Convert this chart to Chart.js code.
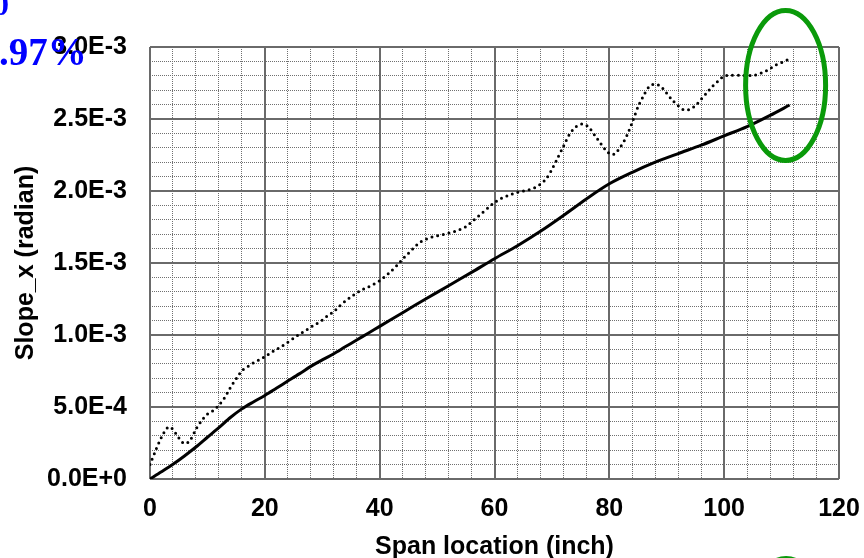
<!DOCTYPE html>
<html>
<head>
<meta charset="utf-8">
<script src="https://cdn.jsdelivr.net/npm/chart.js@4.4.1/dist/chart.umd.min.js"></script>
<style>
  html, body { margin: 0; padding: 0; background: #fff; overflow: hidden; }
  #wrap { position: relative; width: 864px; height: 558px; }
  .note { position: absolute; color: #0000ff; font-family: "Liberation Serif", "Times New Roman", serif; font-weight: bold; white-space: nowrap; line-height: 1; }
</style>
</head>
<body>
<div id="wrap">
  <canvas id="slopeChart" width="864" height="558"></canvas>
  <span class="note" style="left:-7px; top:-12px; font-size:32px;">0</span>
  <span class="note" style="left:-1px; top:32px; font-size:39px;">.97%</span>
</div>
<script>
// slope values in 1e-3 rad
const spanSolid = [0, 2, 4, 6, 8, 10, 12, 14, 16, 18, 20, 22, 24, 26, 28, 30, 32, 34, 36, 38, 40,
    44, 48, 52, 56, 60, 64, 68, 72, 76, 80, 84, 88, 92, 96, 100, 104, 108, 111.4];
const slopeSolid = [0, 0.05, 0.102, 0.16, 0.222, 0.29, 0.357, 0.427, 0.487, 0.535, 0.58, 0.63, 0.68, 0.73, 0.782, 0.827, 0.87, 0.918, 0.965, 1.012, 1.06,
    1.155, 1.25, 1.342, 1.435, 1.53, 1.62, 1.72, 1.83, 1.945, 2.05, 2.13, 2.2, 2.26, 2.318, 2.383, 2.447, 2.525, 2.597];

const spanDotted = [0, 1, 2, 3, 3.6, 4.5, 5.5, 6.2, 7, 8, 9, 10, 11, 12, 13, 14, 15, 16, 17, 18, 19, 20,
    21, 22, 23, 24, 25, 26, 27, 28, 29, 30, 31, 32, 33, 34, 35, 36, 37, 38, 39, 40,
    41, 42, 43, 44, 45, 46, 47, 48, 49, 50, 51, 52, 53, 54, 55, 56, 57, 58, 59, 60,
    61, 62, 63, 64, 65, 66, 67, 68, 69, 70, 71, 72, 73, 74, 75, 75.6, 76.5, 77.5, 78.5, 79.5,
    80.4, 81, 82, 83, 84, 85, 86, 87, 88, 89, 90, 91, 92, 93, 94, 95, 96, 97, 98, 99, 100,
    101, 103, 105, 106, 107, 108, 109, 110, 111];
const slopeDotted = [0.10, 0.20, 0.29, 0.355, 0.36, 0.315, 0.26, 0.245, 0.27, 0.345, 0.405, 0.45, 0.475, 0.512, 0.565, 0.635, 0.695, 0.752, 0.78, 0.807, 0.827, 0.85,
    0.876, 0.899, 0.923, 0.95, 0.977, 1.005, 1.029, 1.055, 1.078, 1.103, 1.136, 1.162, 1.2, 1.235, 1.265, 1.292, 1.315, 1.333, 1.353, 1.377,
    1.408, 1.443, 1.483, 1.527, 1.567, 1.608, 1.643, 1.664, 1.679, 1.689, 1.698, 1.707, 1.718, 1.733, 1.752, 1.785, 1.818, 1.853, 1.887, 1.92,
    1.945, 1.962, 1.978, 1.991, 2.0, 2.009, 2.023, 2.048, 2.085, 2.15, 2.23, 2.31, 2.39, 2.44, 2.462, 2.466, 2.44, 2.385, 2.33, 2.278,
    2.252, 2.26, 2.31, 2.38, 2.478, 2.585, 2.665, 2.727, 2.742, 2.725, 2.678, 2.63, 2.592, 2.562, 2.567, 2.593, 2.637, 2.683, 2.728, 2.766, 2.799,
    2.803, 2.803, 2.802, 2.813, 2.827, 2.85, 2.875, 2.891, 2.91];

// axis setup
const xMin = 0, xMax = 120, xMajor = 20, xMinor = 4;
const yMin = 0, yMax = 3.0e-3, yMajor = 0.5e-3, yMinor = 0.1e-3;

const toPoints = (xs, ys) => xs.map((x, i) => ({ x: x, y: ys[i] / 1000 }));

const labelFont = { family: '"Liberation Sans", Arial, sans-serif', size: 25, weight: 'bold' };

// green rings drawn over the plot
const ringPlugin = {
    id: 'rings',
    afterDraw(chart) {
        const { ctx, scales } = chart;
        const cx = scales.x.getPixelForValue(110.7);
        const cy = scales.y.getPixelForValue(2.733e-3);
        ctx.save();
        ctx.strokeStyle = '#0a9a0a';
        ctx.lineWidth = 5;
        ctx.beginPath();
        ctx.ellipse(cx, cy, 40, 75, 0, 0, Math.PI * 2);
        ctx.stroke();
        ctx.beginPath();
        ctx.ellipse(cx + 0.5, 633.5, 40, 75, 0, 0, Math.PI * 2);
        ctx.stroke();
        ctx.restore();
    }
};

new Chart(document.getElementById('slopeChart'), {
    type: 'line',
    data: {
        datasets: [
            {
                data: toPoints(spanSolid, slopeSolid),
                borderColor: '#000',
                borderWidth: 3,
                pointRadius: 0,
                tension: 0.3,
                xAxisID: 'x', yAxisID: 'y'
            },
            {
                data: toPoints(spanDotted, slopeDotted),
                borderColor: '#000',
                borderWidth: 3,
                borderDash: [0, 5.8],
                borderCapStyle: 'round',
                pointRadius: 0,
                tension: 0.3,
                xAxisID: 'x', yAxisID: 'y'
            }
        ]
    },
    options: {
        responsive: false,
        animation: false,
        layout: { padding: { top: 47, right: 25, bottom: 0, left: 0 } },
        plugins: { legend: { display: false }, tooltip: { enabled: false } },
        scales: {
            xMinor: {
                type: 'linear', position: 'bottom', min: xMin, max: xMax,
                ticks: { display: false, stepSize: xMinor },
                grid: { color: '#707070', lineWidth: 1, drawTicks: false, z: -2 },
                border: { display: false, dash: [1, 1] },
                afterFit: s => { s.height = 0; }
            },
            yMinor: {
                type: 'linear', position: 'left', min: yMin, max: yMax,
                ticks: { display: false, stepSize: yMinor },
                grid: { color: '#707070', lineWidth: 1, drawTicks: false, z: -2 },
                border: { display: false, dash: [1, 1] },
                afterFit: s => { s.width = 0; }
            },
            x: {
                type: 'linear', position: 'bottom', min: xMin, max: xMax,
                ticks: { stepSize: xMajor, color: '#000', font: labelFont, padding: 15, maxRotation: 0 },
                grid: { color: '#6a6a6a', lineWidth: 2, drawTicks: false },
                border: { display: false },
                title: { display: true, text: 'Span location (inch)', color: '#000', font: labelFont, padding: { top: 0, bottom: -4 } },
                afterFit: s => { s.height = 79; s.paddingLeft = 0; s.paddingRight = 0; }
            },
            y: {
                type: 'linear', position: 'left', min: yMin, max: yMax,
                ticks: {
                    stepSize: yMajor, color: '#000', font: labelFont, padding: 23,
                    callback: v => Number(v).toExponential(1).toUpperCase()
                },
                grid: { color: '#6a6a6a', lineWidth: 2, drawTicks: false },
                border: { display: false },
                title: { display: true, text: 'Slope_x (radian)', color: '#000', font: labelFont, padding: { top: 11, bottom: 0 } },
                afterFit: s => { s.width = 150; s.paddingTop = 0; s.paddingBottom = 0; }
            }
        }
    },
    plugins: [ringPlugin]
});
</script>
</body>
</html>
